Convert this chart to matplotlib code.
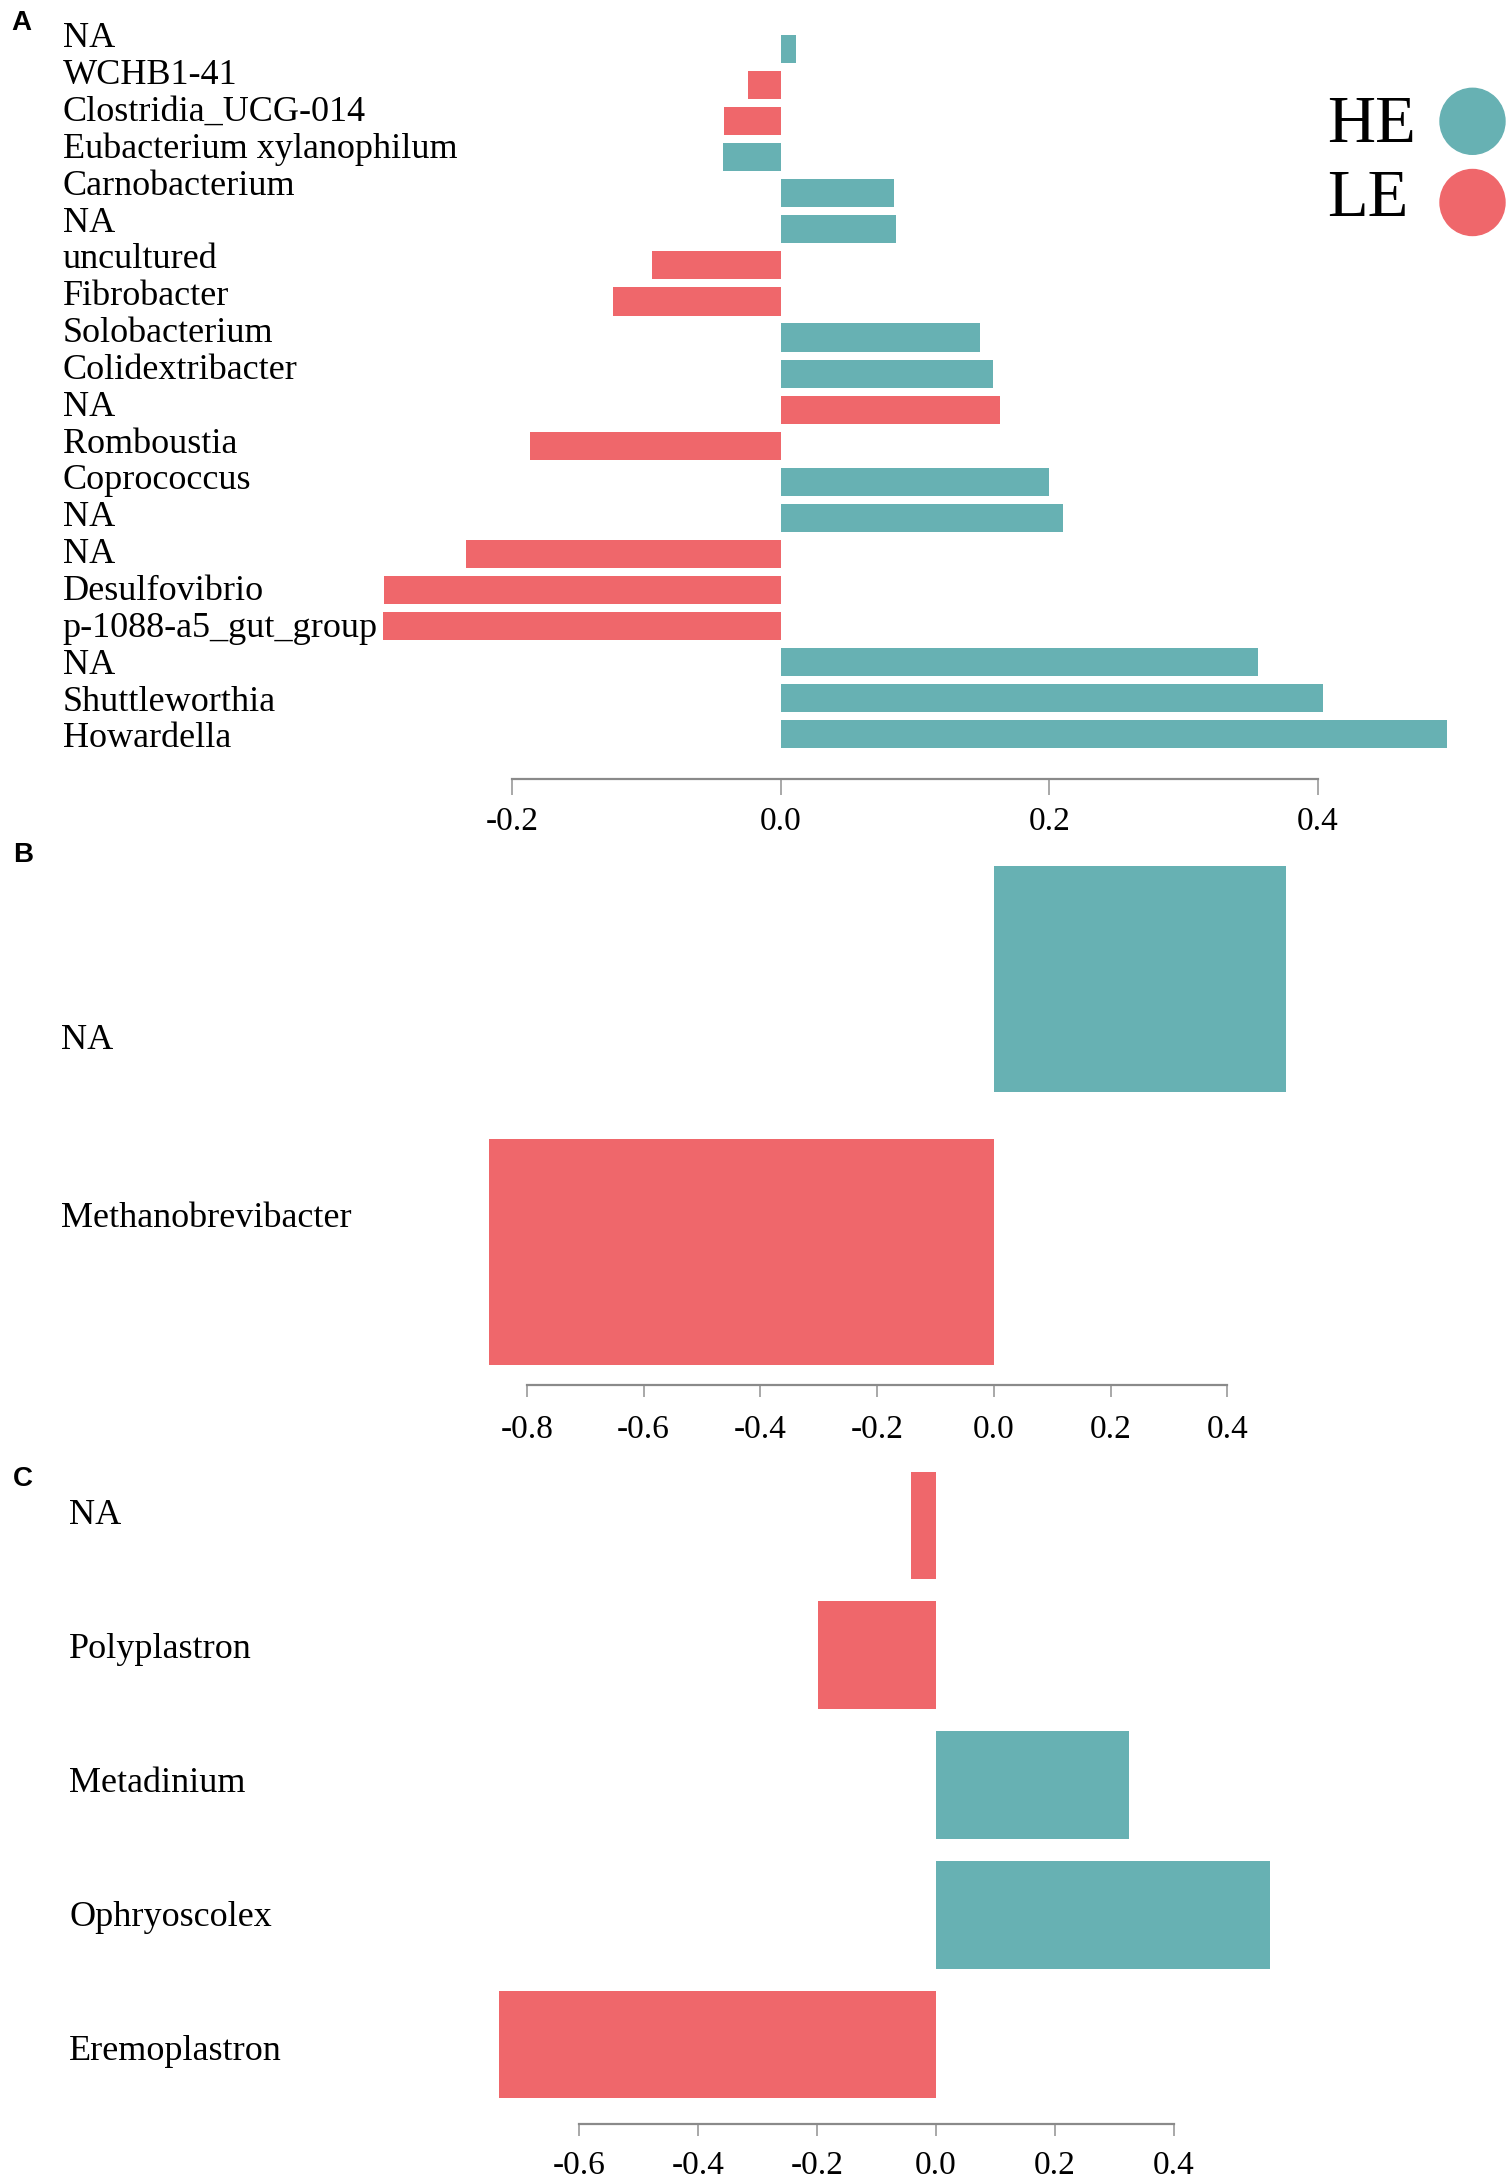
import matplotlib
matplotlib.use("Agg")
import matplotlib.pyplot as plt
from matplotlib.patches import Ellipse
import numpy as np

# ---------------- data ----------------
a_taxa = ["NA", "WCHB1-41", "Clostridia_UCG-014", "Eubacterium xylanophilum",
          "Carnobacterium", "NA", "uncultured", "Fibrobacter", "Solobacterium",
          "Colidextribacter", "NA", "Romboustia", "Coprococcus", "NA", "NA",
          "Desulfovibrio", "p-1088-a5_gut_group", "NA", "Shuttleworthia", "Howardella"]
a_values = [0.011, -0.024, -0.042, -0.043, 0.084, 0.086, -0.096, -0.125, 0.148,
            0.158, 0.163, -0.187, 0.200, 0.210, -0.234, -0.295, -0.296, 0.355,
            0.404, 0.496]
a_groups = ["HE", "LE", "LE", "HE", "HE", "HE", "LE", "LE", "HE", "HE", "LE", "LE",
            "HE", "HE", "LE", "LE", "LE", "HE", "HE", "HE"]
a_ticks = [-0.2, 0.0, 0.2, 0.4]

b_taxa = ["NA", "Methanobrevibacter"]
b_values = [0.501, -0.864]
b_groups = ["HE", "LE"]
b_ticks = [-0.8, -0.6, -0.4, -0.2, 0.0, 0.2, 0.4]

c_taxa = ["NA", "Polyplastron", "Metadinium", "Ophryoscolex", "Eremoplastron"]
c_values = [-0.042, -0.199, 0.324, 0.561, -0.735]
c_groups = ["LE", "LE", "HE", "HE", "LE"]
c_ticks = [-0.6, -0.4, -0.2, 0.0, 0.2, 0.4]

legend_groups = ["HE", "LE"]
colors = {"HE": "#67B1B3", "LE": "#EF676B"}

# ---------------- layout ----------------
W, H = 1510, 2181
SERIF = ["Liberation Serif", "DejaVu Serif"]
plt.rcParams["font.family"] = SERIF
fig = plt.figure(figsize=(W / 100, H / 100), dpi=100)


def px_axes(left, top, right, bottom):
    return fig.add_axes([left / W, 1 - bottom / H, (right - left) / W, (bottom - top) / H])


def panel(rect, taxa, values, groups, ticks, xlim, ylim, bar_h, label_x,
          lab_a, lab_b, tick_len, tick_pad):
    ax = px_axes(*rect)
    n = len(taxa)
    pos = np.arange(n)
    ax.barh(pos, values, height=bar_h, color=[colors[g] for g in groups],
            edgecolor="none")
    ax.set_xlim(*xlim)
    ax.set_ylim(*ylim)
    for s in ["top", "right", "left"]:
        ax.spines[s].set_visible(False)
    ax.spines["bottom"].set_bounds(ticks[0], ticks[-1])
    ax.spines["bottom"].set_color("#8a8a8a")
    ax.spines["bottom"].set_linewidth(1.6)
    ax.set_xticks(ticks)
    ax.set_xticklabels([f"{t:.1f}" for t in ticks], fontsize=24, family=SERIF)
    ax.tick_params(axis="x", direction="out", length=tick_len, width=1.2,
                   color="#999999", pad=tick_pad)
    lab_pos = lab_a + lab_b * pos
    ax.set_yticks(lab_pos)
    ax.set_yticklabels(taxa, fontsize=26, family=SERIF)
    left_px = rect[0]
    ax.tick_params(axis="y", length=0, pad=(left_px - label_x) * 0.72)
    for t in ax.get_yticklabels():
        t.set_horizontalalignment("left")
    ax.patch.set_alpha(0)
    return ax


# Panel A
panel((377.7, 27.4, 1479.3, 779.3), a_taxa, a_values, a_groups, a_ticks,
      (-0.30, 0.52), (20.25, -0.6), 0.78, 62.7, -0.394, 1.0217, 11.5, 8.0)

# Panel B
panel((468.4, 829.0, 1344.05, 1384.7), b_taxa, b_values, b_groups, b_ticks,
      (-0.9, 0.6), (1.486, -0.55), 0.83, 60.7, 0.211, 0.652, 8.6, 13.0)

# Panel C
panel((460.0, 1454.3, 1322.75, 2123.5), c_taxa, c_values, c_groups, c_ticks,
      (-0.8, 0.65), (4.61, -0.55), 0.83, 69.3, -0.109, 1.034, 8.3, 11.5)

# panel letters
for letter, (x, y) in zip(["A", "B", "C"], [(11.5, 23), (13, 854.6), (13, 1479)]):
    fig.text(x / W, 1 - y / H, letter, fontsize=20, fontweight="bold",
             family=["Liberation Sans", "DejaVu Sans"], ha="left", va="center")

# legend
for g, (ty, cy) in zip(legend_groups, [(125, 121.3), (200, 202.5)]):
    fig.text(1326.7 / W, 1 - ty / H, g, fontsize=48, ha="left", va="center",
             family=SERIF)
    fig.add_artist(Ellipse((1472.5 / W, 1 - cy / H), 65 / W, 66 / H,
                           transform=fig.transFigure, color=colors[g]))

fig.savefig("out.png", dpi=100, facecolor="white")
